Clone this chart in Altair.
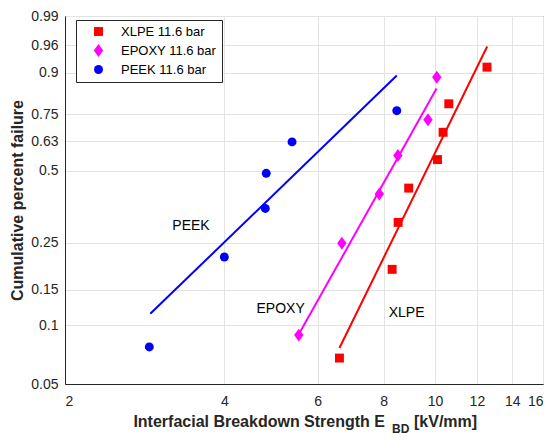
import numpy as np
import pandas as pd
import altair as alt

series_names = ["XLPE 11.6 bar", "EPOXY 11.6 bar", "PEEK 11.6 bar"]
colors = ["#ff0000", "#ff00ff", "#0000ff"]
diamond = "M0,-1.45L1.05,0L0,1.45L-1.05,0Z"
shapes = ["square", diamond, "circle"]

# measured points (breakdown strength kV/mm, cumulative failure probability)
xlpe_x = [6.60, 8.30, 8.52, 8.92, 10.11, 10.36, 10.62, 12.54]
xlpe_F = [0.068, 0.188, 0.309, 0.430, 0.549, 0.671, 0.793, 0.915]
epoxy_x = [5.53, 6.67, 7.85, 8.51, 9.70, 10.08]
epoxy_F = [0.089, 0.249, 0.407, 0.567, 0.726, 0.887]
peek_x = [2.886, 4.00, 4.78, 4.80, 5.37, 8.47]
peek_F = [0.0775, 0.215, 0.355, 0.490, 0.628, 0.765]

# fitted Weibull lines (end points)
xlpe_fit_x = [6.60, 12.55]
xlpe_fit_F = [0.0766, 0.958]
epoxy_fit_x = [5.53, 10.07]
epoxy_fit_F = [0.0898, 0.850]
peek_fit_x = [2.898, 8.47]
peek_fit_F = [0.1139, 0.892]

# annotations
label_text = ["PEEK", "EPOXY", "XLPE"]
label_x = [3.46, 5.11, 8.84]
label_F = [0.298, 0.1204, 0.1156]

y_ticks_F = [0.05, 0.1, 0.15, 0.25, 0.5, 0.63, 0.75, 0.9, 0.96, 0.99]
x_ticks = [2, 4, 6, 8, 10, 12, 14, 16]


def weib(F):
    F = np.asarray(F, dtype=float)
    return np.log(-np.log(1.0 - F))


pts = pd.concat([
    pd.DataFrame({"x": xlpe_x, "w": weib(xlpe_F), "series": series_names[0]}),
    pd.DataFrame({"x": epoxy_x, "w": weib(epoxy_F), "series": series_names[1]}),
    pd.DataFrame({"x": peek_x, "w": weib(peek_F), "series": series_names[2]}),
])
fits = pd.concat([
    pd.DataFrame({"x": xlpe_fit_x, "w": weib(xlpe_fit_F), "series": series_names[0]}),
    pd.DataFrame({"x": epoxy_fit_x, "w": weib(epoxy_fit_F), "series": series_names[1]}),
    pd.DataFrame({"x": peek_fit_x, "w": weib(peek_fit_F), "series": series_names[2]}),
])
labels = pd.DataFrame({"x": label_x, "w": weib(label_F), "t": label_text})

y_ticks_w = [float(v) for v in weib(y_ticks_F)]
ydom = [y_ticks_w[0], y_ticks_w[-1]]

W, H = 478, 368
FONT = "Liberation Sans"

xs = alt.Scale(type="log", domain=[2, 16], nice=False)
ys = alt.Scale(domain=ydom, nice=False, zero=False)
cs = alt.Scale(domain=series_names, range=colors)
ss = alt.Scale(domain=series_names, range=shapes)

xaxis = alt.Axis(values=x_ticks, format="d", title=None, grid=True, tickSize=0,
                 labelPadding=10)
yaxis = alt.Axis(values=y_ticks_w, title="Cumulative percent failure", grid=True, tickSize=0,
                 labelExpr="format(1 - exp(-exp(datum.value)), '.2~f')",
                 labelPadding=7, titlePadding=5, titleFontSize=16, titleFontWeight="bold")

leg = alt.Legend(orient="none", legendX=11, legendY=4,
                 strokeColor="#262626", fillColor="white",
                 padding=5, rowPadding=5, symbolOffset=11,
                 labelOffset=16, labelFontSize=13, symbolSize=80,
                 labelExpr="datum.label + '   '",
                 labelColor="black", labelFont=FONT)

line_layers = []
for i, (name, col) in enumerate(zip(series_names, colors)):
    if i == 0:
        enc = dict(x=alt.X("x:Q", scale=xs, axis=xaxis), y=alt.Y("w:Q", scale=ys, axis=yaxis))
    else:
        enc = dict(x=alt.X("x:Q", scale=xs), y=alt.Y("w:Q", scale=ys))
    line_layers.append(
        alt.Chart(fits).transform_filter(alt.datum.series == name)
        .mark_line(strokeWidth=2, clip=True, color=col).encode(**enc)
    )

points = alt.Chart(pts).mark_point(filled=True, opacity=1, size=80).encode(
    x=alt.X("x:Q", scale=xs),
    y=alt.Y("w:Q", scale=ys),
    color=alt.Color("series:N", scale=cs, title=None, legend=leg),
    shape=alt.Shape("series:N", scale=ss, title=None, legend=leg),
)

texts = alt.Chart(labels).mark_text(fontSize=14, font=FONT, color="black").encode(
    x=alt.X("x:Q", scale=xs),
    y=alt.Y("w:Q", scale=ys),
    text="t:N",
)

title_main = alt.Chart(pd.DataFrame({"t": ["Interfacial Breakdown Strength E"]})).mark_text(
    fontSize=16, fontWeight="bold", font=FONT, color="#262626", align="right", baseline="alphabetic"
).encode(x=alt.value(320), y=alt.value(H + 43), text="t:N")
title_sub = alt.Chart(pd.DataFrame({"t": ["BD"]})).mark_text(
    fontSize=12, fontWeight="bold", font=FONT, color="#262626", align="left", baseline="alphabetic"
).encode(x=alt.value(327), y=alt.value(H + 49), text="t:N")
title_unit = alt.Chart(pd.DataFrame({"t": ["[kV/mm]"]})).mark_text(
    fontSize=16, fontWeight="bold", font=FONT, color="#262626", align="left", baseline="alphabetic"
).encode(x=alt.value(349), y=alt.value(H + 43), text="t:N")

chart = alt.layer(*line_layers, points, texts, title_main, title_sub, title_unit).properties(
    width=W, height=H,
    autosize=alt.AutoSizeParams(type="none"),
    padding={"left": 57, "top": 8, "right": 5, "bottom": 51},
).configure(font=FONT).configure_view(
    stroke="#262626", strokeWidth=1
).configure_axis(
    labelFont=FONT, labelFontSize=14, labelColor="#262626",
    titleFont=FONT, titleColor="#262626",
    gridColor="#e3e3e3", gridWidth=1, domainColor="#262626",
)

chart.save("out.html", embed_options={"renderer": "svg", "actions": False})
